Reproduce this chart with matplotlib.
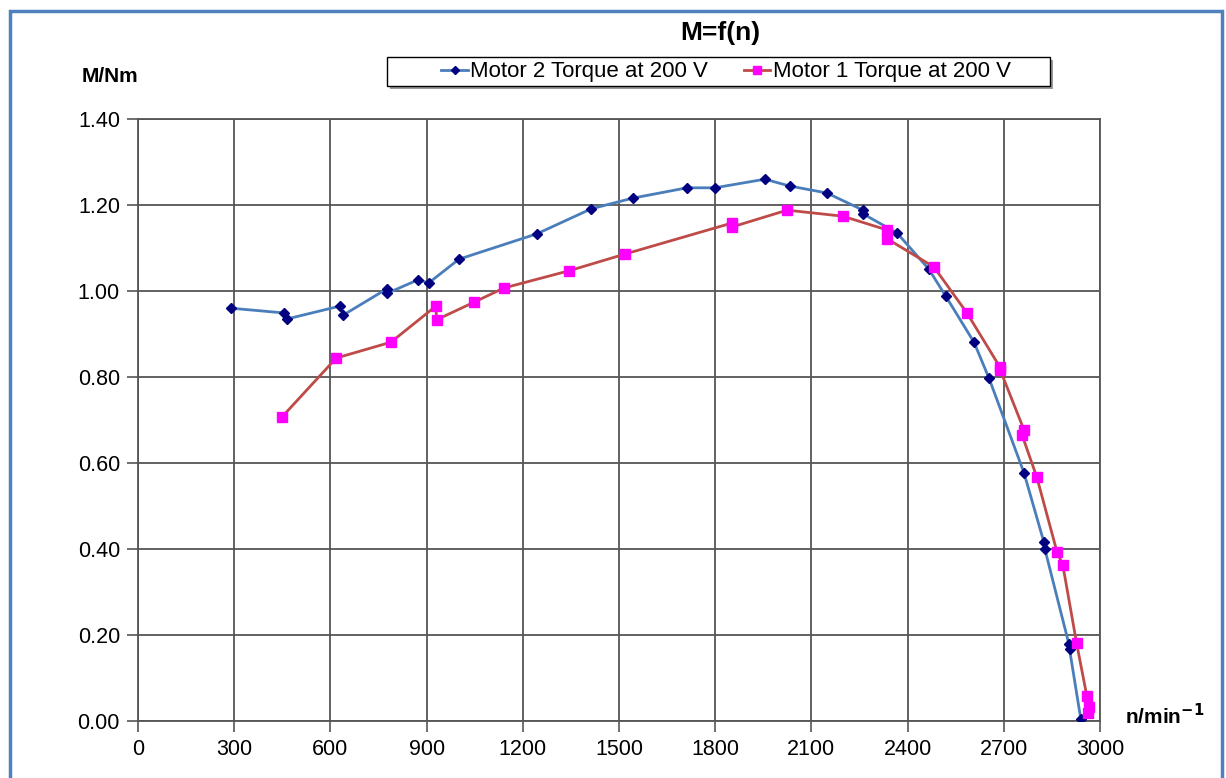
import matplotlib.pyplot as plt
from matplotlib.patches import Rectangle

plt.rcParams['font.family'] = ['Liberation Sans', 'DejaVu Sans']

# Motor 2 torque at 200 V (speed in 1/min, torque in Nm)
motor2_speed = [290, 455, 465, 630, 640, 776, 778, 873, 907, 1001, 1244, 1413,
                1543, 1712, 1799, 1955, 2033, 2148, 2261, 2262, 2367, 2466,
                2519, 2607, 2654, 2763, 2825, 2828, 2903, 2905, 2940]
motor2_torque = [0.960, 0.949, 0.935, 0.965, 0.944, 1.005, 0.995, 1.026, 1.019,
                 1.074, 1.133, 1.191, 1.216, 1.240, 1.240, 1.260, 1.244, 1.228,
                 1.188, 1.179, 1.135, 1.051, 0.988, 0.881, 0.797, 0.577, 0.416,
                 0.400, 0.179, 0.167, 0.005]

# Motor 1 torque at 200 V
motor1_speed = [449, 618, 789, 929, 931, 1048, 1141, 1344, 1519, 1852, 1853,
                2024, 2198, 2336, 2337, 2482, 2585, 2688, 2689, 2763, 2757,
                2803, 2866, 2884, 2927, 2959, 2965, 2962]
motor1_torque = [0.707, 0.844, 0.881, 0.965, 0.933, 0.974, 1.007, 1.047, 1.086,
                 1.158, 1.149, 1.188, 1.174, 1.142, 1.121, 1.056, 0.949, 0.823,
                 0.816, 0.677, 0.665, 0.567, 0.393, 0.363, 0.181, 0.058, 0.033,
                 0.019]

x_ticks = list(range(0, 3001, 300))
y_ticks = [0.0, 0.2, 0.4, 0.6, 0.8, 1.0, 1.2, 1.4]

W, H = 1226, 778
fig = plt.figure(figsize=(W / 100, H / 100), dpi=100)
ax = fig.add_axes([138 / W, 1 - 721 / H, 962 / W, 602 / H])

# outer chart frame
fig.patches.append(Rectangle((10 / W, -0.05), 1212 / W, 1.05 - 11 / H,
                             transform=fig.transFigure, fill=False,
                             edgecolor='#4F81BD', linewidth=2.5))

ax.plot(motor2_speed, motor2_torque, color='#4A7EBB', linewidth=2,
        marker='D', markersize=5.5, markerfacecolor='#000080',
        markeredgecolor='#000080', label='Motor 2 Torque at 200 V', zorder=3)
ax.plot(motor1_speed, motor1_torque, color='#BE4B48', linewidth=2,
        marker='s', markersize=7, markerfacecolor='#FF00FF',
        markeredgecolor='#FF00FF', label='Motor 1 Torque at 200 V', zorder=3)

ax.set_xlim(0, 3000)
ax.set_ylim(0, 1.4)
ax.set_xticks(x_ticks)
ax.set_yticks(y_ticks)
ax.set_yticklabels([f'{v:.2f}' for v in y_ticks])
ax.tick_params(labelsize=15.5, length=8, width=1.2, color='#555555', pad=5)
ax.grid(True, color='#555555', linewidth=1.3)
ax.set_axisbelow(True)
for spine in ax.spines.values():
    spine.set_color('#555555')
    spine.set_linewidth(1.3)

fig.text(720 / W, 1 - 33 / H, 'M=f(n)', fontsize=19, fontweight='bold',
         ha='center', va='center')
fig.text(110 / W, 1 - 77 / H, 'M/Nm', fontsize=15, fontweight='bold',
         ha='center', va='center')
fig.text(1165 / W, 1 - 716 / H, r'n/min$^{\mathbf{-1}}$', fontsize=15,
         fontweight='bold', ha='center', va='center')

# legend box with shadow, drawn by hand to get the wide padding
fig.patches.append(Rectangle((390 / W, 1 - 89 / H), 663 / W, 29 / H,
                             transform=fig.transFigure, facecolor='#999999',
                             edgecolor='none', zorder=4))
fig.patches.append(Rectangle((387 / W, 1 - 86 / H), 663 / W, 29 / H,
                             transform=fig.transFigure, facecolor='white',
                             edgecolor='black', linewidth=1, zorder=5))
leg = ax.legend(loc='center', bbox_to_anchor=(726 / W, 1 - 72 / H),
                bbox_transform=fig.transFigure, ncol=2, fontsize=16,
                frameon=False, handlelength=1.2, handletextpad=0.1,
                columnspacing=1.6, borderpad=0, borderaxespad=0,
                markerscale=0.8)
leg.set_zorder(6)
leg.remove()
fig.legends.append(leg)

fig.savefig('out.png', dpi=100)
